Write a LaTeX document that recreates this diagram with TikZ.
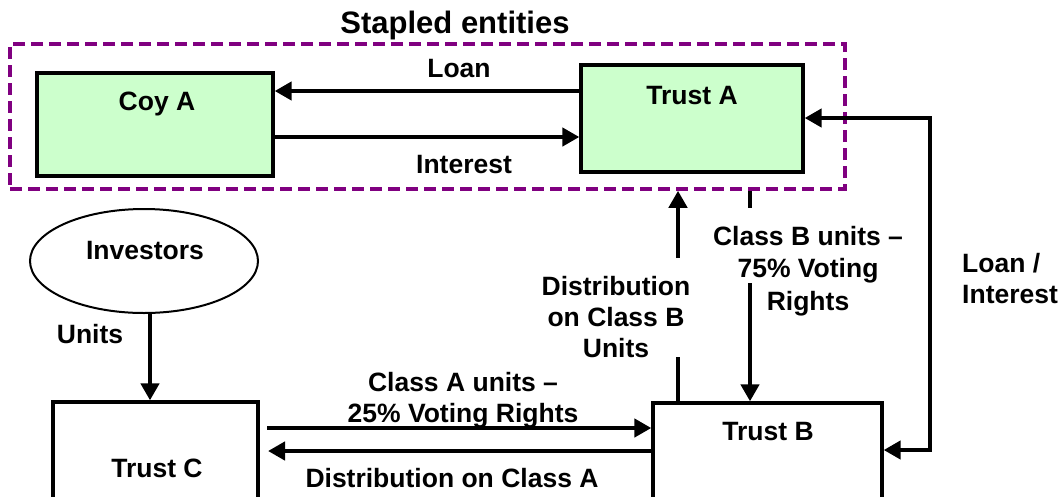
\documentclass[tikz,border=0pt]{standalone}
\usepackage{fontspec}
\setmainfont{Liberation Sans}
\usetikzlibrary{arrows.meta,shapes.geometric}
\definecolor{boxgreen}{HTML}{CCFFCC}
\definecolor{staplepurple}{HTML}{800080}
\tikzset{
  txt/.style={font=\fontsize{26.5}{31}\selectfont\bfseries, inner sep=0pt, anchor=base},
  box/.style={draw=black, line width=3.3pt, rectangle},
  arr/.style={line width=4.3pt, -{Triangle[length=17pt,width=18pt]}},
  arrboth/.style={line width=4.3pt, {Triangle[length=17pt,width=18pt]}-{Triangle[length=17pt,width=18pt]}},
  seg/.style={line width=4.3pt},
}
\begin{document}
\begin{tikzpicture}[x=1pt,y=-1pt]
\useasboundingbox (0,0) rectangle (1059,496);
\clip (0,0) rectangle (1059,496);
% stapled group
\node[draw=staplepurple, line width=3.5pt, dash pattern=on 12pt off 6pt, rectangle,
      minimum width=835pt, minimum height=145pt] (staple) at (427.5,116.5) {};
\node[txt, font=\fontsize{31}{36}\selectfont\bfseries] (title) at (455,33) {Stapled entities};
% boxes
\node[box, fill=boxgreen, minimum width=236pt, minimum height=103pt] (CA) at (155,124.5) {};
\node[box, fill=boxgreen, minimum width=222pt, minimum height=107pt] (TA) at (692,118.5) {};
\node[box, minimum width=229pt, minimum height=140pt] (TB) at (767.5,473) {};
\node[box, minimum width=205pt, minimum height=140pt] (TC) at (155.5,472) {};
\node[draw=black, line width=2pt, ellipse, minimum width=228pt, minimum height=104pt, inner sep=0pt] (Inv) at (144,261) {};
% box texts
\node[txt] (tCA) at (157,110) {Coy A};
\node[txt] (tTA) at (692,104) {Trust A};
\node[txt] (tTB) at (768,440) {Trust B};
\node[txt] (tTC) at (157,477) {Trust C};
\node[txt] (tInv) at (145,259) {Investors};
% connector labels (multi-line: anchor at last baseline)
\node[txt] (lLoan) at (459,77) {Loan};
\node[txt] (lInt) at (464,173) {Interest};
\node[txt] (lUnits) at (90,343) {Units};
\node[txt, align=center] (lClassA) at (463,422) {Class A units --\\25\% Voting Rights};
\node[txt] (lDistA) at (452,487) {Distribution on Class A};
\node[txt, align=center] (lDistB) at (616,357) {Distribution\\on Class B\\Units};
\node[txt, align=center, font=\fontsize{26.5}{32.5}\selectfont\bfseries] (lClassB) at (808,310) {Class B units --\\75\% Voting\\Rights};
\node[txt, anchor=base west, align=left] (lLI) at (962,303) {Loan /\\Interest};
% coordinates
\coordinate (ly) at (0,91);
\coordinate (iy) at (0,137);
\coordinate (lx) at (930,118);
\coordinate (tby) at (0,450);
\coordinate (ux) at (150,0);
\coordinate (ca) at (267,428);
\coordinate (da) at (268,451);
\coordinate (dbLow) at (678,357);
\coordinate (dbHigh) at (678,258);
\coordinate (cbHigh) at (750,208);
\coordinate (cbLow) at (750,283);
% connectors
\draw[arr] (TA.west |- ly) -- (CA.east |- ly);
\draw[arr] (CA.east |- iy) -- (TA.west |- iy);
\draw[arrboth] (TA.east |- lx) -- (lx) -- (lx |- tby) -- (TB.east |- tby);
\draw[arr] (Inv.south -| ux) -- (TC.north -| ux);
\draw[arr] (ca) -- (ca -| TB.west);
\draw[arr] (da -| TB.west) -- (da);
\draw[seg] (TB.north -| dbLow) -- (dbLow);
\draw[arr] (dbHigh) -- (dbHigh |- staple.south);
\draw[seg] (staple.south -| cbHigh) -- (cbHigh);
\draw[arr] (cbLow) -- (cbLow |- TB.north);
\end{tikzpicture}
\end{document}
